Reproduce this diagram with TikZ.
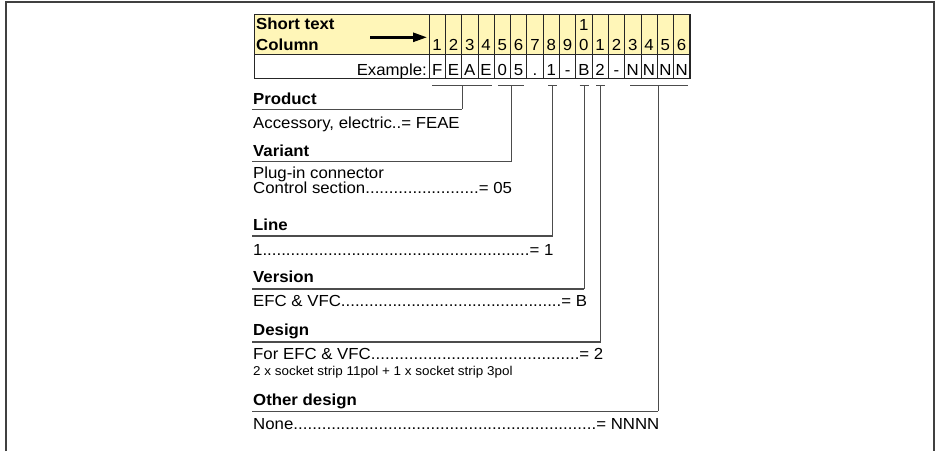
\documentclass[tikz,border=0pt]{standalone}
\usepackage{fontspec}
\setmainfont{Liberation Sans}[FakeStretch=1.05]
\usetikzlibrary{arrows.meta}
\newcommand\bodyfnt{\fontsize{16}{18}\selectfont}
\newcommand\smallfnt{\fontsize{12.8}{14}\selectfont}
\newcommand\lead{\xleaders\hbox{.}\hfill}
\definecolor{hdryellow}{HTML}{FFF6B8}
\definecolor{framegray}{HTML}{404040}
\tikzset{
  txt/.style={anchor=base west, inner sep=0pt, font=\bodyfnt},
  headtxt/.style={anchor=base west, inner sep=0pt, font=\bodyfnt\bfseries},
  celltxt/.style={anchor=base, inner sep=0pt, font=\bodyfnt},
  grid/.style={draw=black!85, line width=0.8pt},
  uline/.style={draw=black!70, line width=1.4pt},
  conn/.style={draw=black!70, line width=0.9pt},
  frame/.style={draw=framegray, line width=1.8pt}
}
\begin{document}
\begin{tikzpicture}[x=1pt,y=-1pt]
\useasboundingbox (0,0) rectangle (939,451);
% outer frame
\draw[frame] (6,451) -- (6,2) -- (934,2) -- (934,451);
% table
\fill[hdryellow] (254,14) rectangle (690,54);
\draw[grid] (254,14) rectangle (690,78.5);
\draw[grid] (254,54) -- (690,54);
\foreach \i in {0,...,16} \draw[grid] ({429+\i*16.3},14) -- ({429+\i*16.3},78.5);
\node[headtxt] (sh1) at (256,29.5) {Short text};
\node[headtxt] (sh2) at (256,50) {Column};
\coordinate (arA) at (370,37.3);
\coordinate (arB) at (427,37.3);
\draw[line width=2.6pt, -{Triangle[length=14pt,width=9pt]}] (arA) -- (arB);
\foreach \d [count=\i] in {1,2,3,4,5,6,7,8,9,0,1,2,3,4,5,6}
  \node[celltxt] (h\i) at ({429+(\i-0.5)*16.3},50.5) {\d};
\node[celltxt] (h10b) at ({429+9.5*16.3},30.5) {1};
\node[anchor=base east, inner sep=0pt, font=\bodyfnt] (ex) at (427,75) {Example:};
\foreach \d [count=\i] in {F,E,A,E,0,5,.,1,-,B,2,-,N,N,N,N}
  \node[celltxt] (e\i) at ({429+(\i-0.5)*16.3},75) {\d};
% bars
\coordinate (p1l) at (432,85); \coordinate (p1r) at (492,85); \coordinate (p1) at (462,85);
\coordinate (p2l) at (498,85); \coordinate (p2r) at (524,85); \coordinate (p2) at (511,85);
\coordinate (p3l) at (548,85); \coordinate (p3r) at (557,85); \coordinate (p3) at (552.5,85);
\coordinate (p4l) at (579.5,85); \coordinate (p4r) at (588.5,85); \coordinate (p4) at (584,85);
\coordinate (p5l) at (596,85); \coordinate (p5r) at (605,85); \coordinate (p5) at (600.5,85);
\coordinate (p6l) at (630,85); \coordinate (p6r) at (688,85); \coordinate (p6) at (658,85);
\foreach \k in {1,...,6} \draw[conn] (p\k l) -- (p\k r);
% underline anchors
\coordinate (u1) at (252,109.3);
\coordinate (u2) at (252,161.7);
\coordinate (u3) at (252,236);
\coordinate (u4) at (252,289);
\coordinate (u5) at (252,342);
\coordinate (u6) at (252,411.3);
\foreach \k in {1,...,6} {
  \draw[conn] (p\k) -- (p\k |- u\k);
  \draw[uline] (u\k) -- (p\k |- u\k);
}
% texts
\node[headtxt] (prod) at (253,104) {Product};
\node[txt] (prodv) at (253,128) {Accessory, electric..= FEAE};
\node[headtxt] (vari) at (253,156) {Variant};
\node[txt] (variv1) at (253,178) {Plug-in connector};
\node[txt] (variv2) at (253,193.5) {\makebox[258.7pt][l]{Control section\lead= 05}};
\node[headtxt] (line) at (253,230) {Line};
\node[txt] (linev) at (253,255) {\makebox[300pt][l]{1\lead= 1}};
\node[headtxt] (vers) at (253,282.7) {Version};
\node[txt] (versv) at (253,306) {\makebox[333.7pt][l]{EFC \& VFC\lead= B}};
\node[headtxt] (desi) at (253,335) {Design};
\node[txt] (desiv) at (253,359.3) {\makebox[350pt][l]{For EFC \& VFC\lead= 2}};
\node[anchor=base west, inner sep=0pt, font=\smallfnt] (desin) at (253,375) {2 x socket strip 11pol + 1 x socket strip 3pol};
\node[headtxt] (othr) at (253,405) {Other design};
\node[txt] (othrv) at (253,429) {\makebox[406pt][l]{None\lead= NNNN}};
\end{tikzpicture}
\end{document}
